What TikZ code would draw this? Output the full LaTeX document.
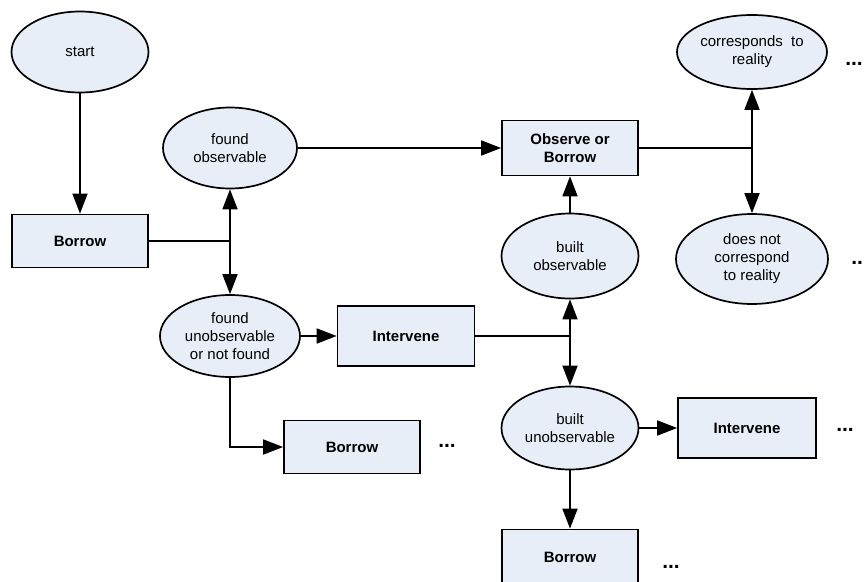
\documentclass[tikz,border=0pt]{standalone}
\usepackage{fontspec}
\setmainfont{Liberation Sans}
\usetikzlibrary{shapes.geometric,arrows.meta}
\definecolor{boxfill}{HTML}{E8EEF8}

\begin{document}
\begin{tikzpicture}[x=1pt, y=-1pt,
	state/.style={ellipse, draw=black, line width=1.7pt, fill=boxfill, minimum width=137pt, minimum height=81pt, inner sep=0pt, align=center, font=\fontsize{15}{18}\selectfont},
	act/.style={rectangle, draw=black, line width=1.7pt, fill=boxfill, minimum width=136pt, minimum height=53pt, inner sep=0pt, align=center, font=\fontsize{15}{18}\selectfont\bfseries},
	more/.style={inner sep=0pt, font=\fontsize{21}{24}\selectfont\bfseries},
	wire/.style={line width=1.7pt},
	link/.style={wire, -{Triangle[length=20pt,width=15pt]}}]

\useasboundingbox (0,0) rectangle (864,581)			;

%%%%------------Start----------------%%
\node [state] (start) at (80,52) {start}						;
\node [act] (borrowA) at (80,241) {Borrow}						;
\draw [link] (start) -- (borrowA)								;

%%%%------------Found----------------%%
\node [state, minimum width=134pt] (foundobs) at (230,148) {found\\observable}		;
\node [state, minimum width=140pt, minimum height=82pt] (foundunobs) at (230,336) {found\\unobservable\\or not found}	;
\coordinate (splitA) at (230,241)								;
\draw [wire] (borrowA) -- (splitA)								;
\draw [link] (splitA) -- (foundobs)								;
\draw [link] (splitA) -- (foundunobs)							;

\node [act, minimum width=137pt, minimum height=60pt] (interveneA) at (406,336) {Intervene}	;
\node [act] (borrowB) at (352,447) {Borrow}						;
\node [more] (dotsB) at (447,446) {...}							;
\draw [link] (foundunobs) -- (interveneA)						;
\draw [link] (foundunobs) |- (borrowB)							;

%%%%------------Observe or Borrow----------------%%
\node [act, minimum height=55pt] (observe) at (570,148) {Observe or\\Borrow}	;
\draw [link] (foundobs) -- (observe)							;

\node [state, minimum width=150pt, minimum height=74pt] (corr) at (752,52) {corresponds\ \ to\\reality}	;
\node [state, minimum width=152pt, minimum height=90pt] (notcorr) at (752,259) {does not\\correspond\\to reality}	;
\node [more] (dotsC) at (854,64) {...}							;
\node [more] (dotsD) at (860,263) {...}							;
\coordinate (splitB) at (752,148)								;
\draw [wire] (observe) -- (splitB)								;
\draw [link] (splitB) -- (corr)									;
\draw [link] (splitB) -- (notcorr)								;

%%%%------------Built----------------%%
\node [state, minimum height=85pt] (builtobs) at (570,256) {built\\observable}		;
\node [state, minimum height=83pt] (builtunobs) at (570,428) {built\\unobservable}	;
\coordinate (splitC) at (570,336)								;
\draw [wire] (interveneA) -- (splitC)							;
\draw [link] (splitC) -- (builtobs)								;
\draw [link] (splitC) -- (builtunobs)							;
\draw [link] (builtobs) -- (observe)							;

\node [act, minimum width=138pt, minimum height=60pt] (interveneB) at (747,428) {Intervene}	;
\node [more] (dotsE) at (845,430) {...}							;
\draw [link] (builtunobs) -- (interveneB)						;

\node [act, minimum height=55pt] (borrowC) at (570,557) {Borrow}	;
\node [more] (dotsF) at (671,567) {...}							;
\draw [link] (builtunobs) -- (borrowC)							;

\end{tikzpicture}
\end{document}
